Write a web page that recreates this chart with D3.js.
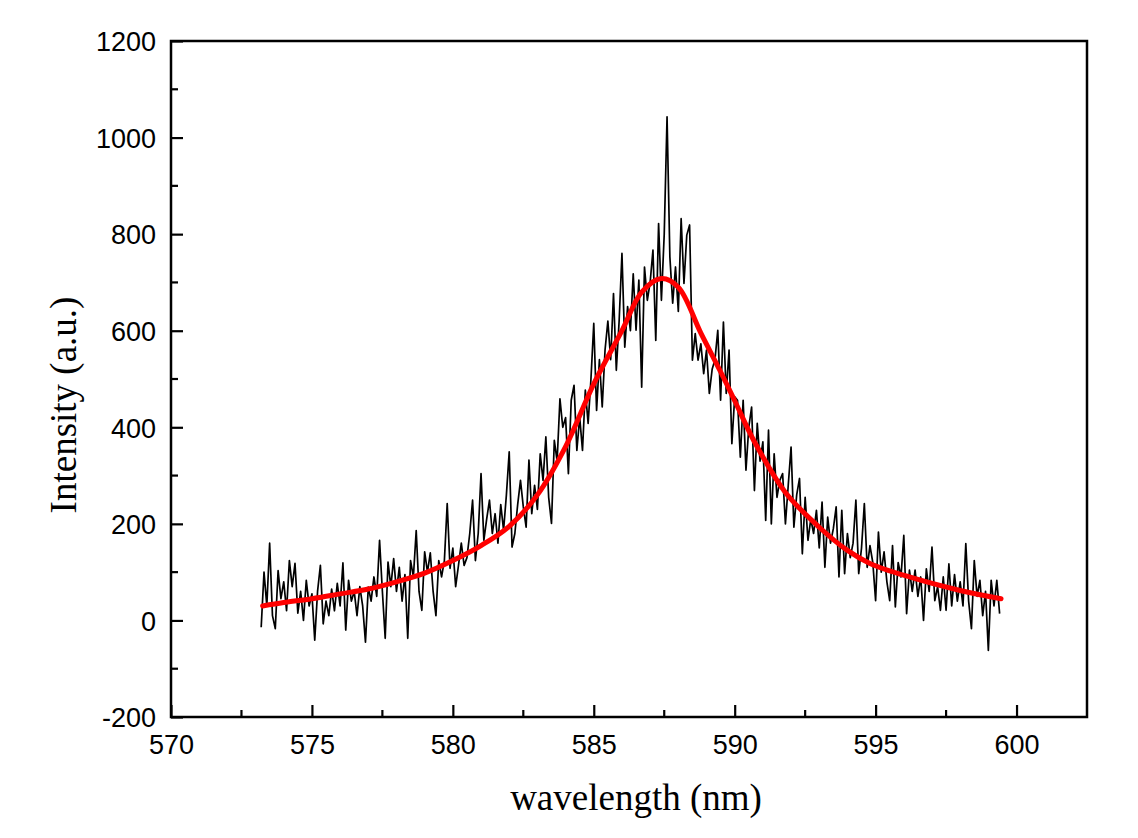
<!DOCTYPE html>
<html>
<head>
<meta charset="utf-8">
<script src="https://cdn.jsdelivr.net/npm/d3@7/dist/d3.min.js"></script>
<style>
  html, body { margin: 0; padding: 0; background: #fff; }
  svg { display: block; }
</style>
</head>
<body>
<svg id="chart" width="1138" height="838"></svg>
<script>
// ---------- data ----------
const xTicks = [570, 575, 580, 585, 590, 595, 600];
const yTicks = [-200, 0, 200, 400, 600, 800, 1000, 1200];
const xDomain = [570, 602.5];
const yDomain = [-200, 1200];
const xTitle = "wavelength (nm)";
const yTitle = "Intensity (a.u.)";

// measured spectrum (wavelength in nm, intensity in a.u.)
const wavelength = [
  573.2,573.3,573.4,573.5,573.6,573.7,573.8,573.9,574.0,574.1,
  574.2,574.3,574.4,574.5,574.6,574.7,574.8,574.9,575.0,575.1,
  575.2,575.3,575.4,575.5,575.6,575.7,575.8,575.9,576.0,576.1,
  576.2,576.3,576.4,576.5,576.6,576.7,576.8,576.9,577.0,577.1,
  577.2,577.3,577.4,577.5,577.6,577.7,577.8,577.9,578.0,578.1,
  578.2,578.3,578.4,578.5,578.6,578.7,578.8,578.9,579.0,579.1,
  579.2,579.3,579.4,579.5,579.6,579.7,579.8,579.9,580.0,580.1,
  580.2,580.3,580.4,580.5,580.6,580.7,580.8,580.9,581.0,581.1,
  581.2,581.3,581.4,581.5,581.6,581.7,581.8,581.9,582.0,582.1,
  582.2,582.3,582.4,582.5,582.6,582.7,582.8,582.9,583.0,583.1,
  583.2,583.3,583.4,583.5,583.6,583.7,583.8,583.9,584.0,584.1,
  584.2,584.3,584.4,584.5,584.6,584.7,584.8,584.9,585.0,585.1,
  585.2,585.3,585.4,585.5,585.6,585.7,585.8,585.9,586.0,586.1,
  586.2,586.3,586.4,586.5,586.6,586.7,586.8,586.9,587.0,587.1,
  587.2,587.3,587.4,587.5,587.6,587.7,587.8,587.9,588.0,588.1,
  588.2,588.3,588.4,588.5,588.6,588.7,588.8,588.9,589.0,589.1,
  589.2,589.3,589.4,589.5,589.6,589.7,589.8,589.9,590.0,590.1,
  590.2,590.3,590.4,590.5,590.6,590.7,590.8,590.9,591.0,591.1,
  591.2,591.3,591.4,591.5,591.6,591.7,591.8,591.9,592.0,592.1,
  592.2,592.3,592.4,592.5,592.6,592.7,592.8,592.9,593.0,593.1,
  593.2,593.3,593.4,593.5,593.6,593.7,593.8,593.9,594.0,594.1,
  594.2,594.3,594.4,594.5,594.6,594.7,594.8,594.9,595.0,595.1,
  595.2,595.3,595.4,595.5,595.6,595.7,595.8,595.9,596.0,596.1,
  596.2,596.3,596.4,596.5,596.6,596.7,596.8,596.9,597.0,597.1,
  597.2,597.3,597.4,597.5,597.6,597.7,597.8,597.9,598.0,598.1,
  598.2,598.3,598.4,598.5,598.6,598.7,598.8,598.9,599.0,599.1,
  599.2,599.3,599.4
];
const intensity = [
  -14,100,30,160,10,-17,103,45,80,20,
  124,70,118,15,60,0,83,30,55,-41,
  60,114,-7,40,10,65,20,77,30,119,
  -20,83,40,60,10,70,30,-45,69,40,
  90,50,166,60,-37,121,70,128,60,110,
  40,95,-37,124,90,186,60,21,142,100,
  140,60,10,124,90,124,242,108,150,70,
  114,160,114,130,180,249,124,180,304,166,
  210,249,180,221,160,240,187,260,349,152,
  180,240,290,235,193,332,221,280,230,345,
  290,380,255,201,373,330,459,400,420,304,
  456,487,352,421,352,477,408,500,615,435,
  540,442,560,620,540,677,518,620,760,566,
  650,600,718,601,705,483,732,663,700,767,
  580,822,663,800,1043,753,657,732,640,832,
  698,798,819,539,594,539,573,511,560,470,
  520,540,601,456,618,470,560,366,463,456,
  338,456,311,400,442,269,408,330,370,207,
  394,200,345,255,290,304,200,280,359,193,
  260,294,138,255,166,210,180,228,150,245,
  110,214,160,190,235,90,228,97,180,130,
  160,249,97,150,242,110,155,120,41,183,
  100,142,80,41,155,28,120,90,176,14,
  104,60,104,50,90,0,107,60,152,41,
  70,21,90,21,117,30,95,40,80,30,
  159,40,-17,124,50,83,10,60,-62,83,
  30,83,14
];

// fitted curve
const fitWavelength = [573.25, 574, 575, 576, 577, 578, 579, 580, 581, 582, 583, 584, 585, 586, 586.7, 587.4, 588, 588.8, 589.5, 590, 590.7, 591.8, 593, 594, 594.8, 596.2, 598, 599.45];
const fitIntensity  = [30, 37, 45, 55, 65, 80, 98, 124, 155, 195, 260, 360, 490, 600, 680, 708, 690, 595, 515, 455, 370, 265, 193, 145, 118, 90, 62, 45];

// ---------- layout ----------
const svg = d3.select("#chart");
const margin = { left: 171, right: 1138 - 1087, top: 41, bottom: 838 - 717 };
const W = 1138, H = 838;
const x = d3.scaleLinear().domain(xDomain).range([margin.left, W - margin.right]);
const y = d3.scaleLinear().domain(yDomain).range([H - margin.bottom, margin.top]);

const tickFont = "'Liberation Sans', Arial, sans-serif";
const titleFont = "'Liberation Serif', 'Times New Roman', serif";
const fmt = d => String(d);

// plot data
const spec = wavelength.map((w, i) => [w, intensity[i]]);
svg.append("path")
  .datum(spec)
  .attr("fill", "none")
  .attr("stroke", "#000")
  .attr("stroke-width", 1.7)
  .attr("stroke-linejoin", "round")
  .attr("d", d3.line().x(d => x(d[0])).y(d => y(d[1])));

const fit = fitWavelength.map((w, i) => [w, fitIntensity[i]]);
svg.append("path")
  .datum(fit)
  .attr("fill", "none")
  .attr("stroke", "#ff0000")
  .attr("stroke-width", 5)
  .attr("stroke-linecap", "round")
  .attr("d", d3.line().x(d => x(d[0])).y(d => y(d[1])).curve(d3.curveCatmullRom.alpha(0.5)));

// axes
const xMinor = d3.range(572.5, 602.5, 5);
const yMinor = d3.range(-100, 1200, 200);

const xAxis = svg.append("g").attr("transform", `translate(0,${H - margin.bottom})`);
xAxis.call(d3.axisBottom(x).tickValues(xTicks).tickSize(-12).tickFormat(fmt).tickPadding(0));
xAxis.select(".domain").remove();
xAxis.selectAll(".tick line").attr("stroke-width", 2.2);
xAxis.selectAll(".tick text").attr("font-family", tickFont).attr("font-size", 27)
  .attr("dy", null).attr("y", 37).attr("fill", "#000");
xAxis.selectAll(".minor").data(xMinor).enter().append("line")
  .attr("x1", d => x(d)).attr("x2", d => x(d)).attr("y1", 0).attr("y2", -7)
  .attr("stroke", "#000").attr("stroke-width", 2.2);

const yAxis = svg.append("g").attr("transform", `translate(${margin.left},0)`);
yAxis.call(d3.axisLeft(y).tickValues(yTicks).tickSize(-12).tickFormat(fmt).tickPadding(0));
yAxis.select(".domain").remove();
yAxis.selectAll(".tick line").attr("stroke-width", 2.2);
yAxis.selectAll(".tick text").attr("font-family", tickFont).attr("font-size", 27)
  .attr("x", -15).attr("dy", "0.36em").attr("fill", "#000");
yAxis.selectAll(".minor").data(yMinor).enter().append("line")
  .attr("x1", 0).attr("x2", 7).attr("y1", d => y(d)).attr("y2", d => y(d))
  .attr("stroke", "#000").attr("stroke-width", 2.2);

// frame
svg.append("rect")
  .attr("x", margin.left).attr("y", margin.top)
  .attr("width", W - margin.right - margin.left)
  .attr("height", H - margin.bottom - margin.top)
  .attr("fill", "none").attr("stroke", "#000").attr("stroke-width", 2.5);

// titles
svg.append("text")
  .attr("x", 636).attr("y", 810)
  .attr("text-anchor", "middle")
  .attr("font-family", titleFont).attr("font-size", 37)
  .attr("fill", "#000")
  .text(xTitle);

svg.append("text")
  .attr("transform", `translate(76,405) rotate(-90)`)
  .attr("text-anchor", "middle")
  .attr("font-family", titleFont).attr("font-size", 37)
  .attr("fill", "#000")
  .text(yTitle);
</script>
</body>
</html>
